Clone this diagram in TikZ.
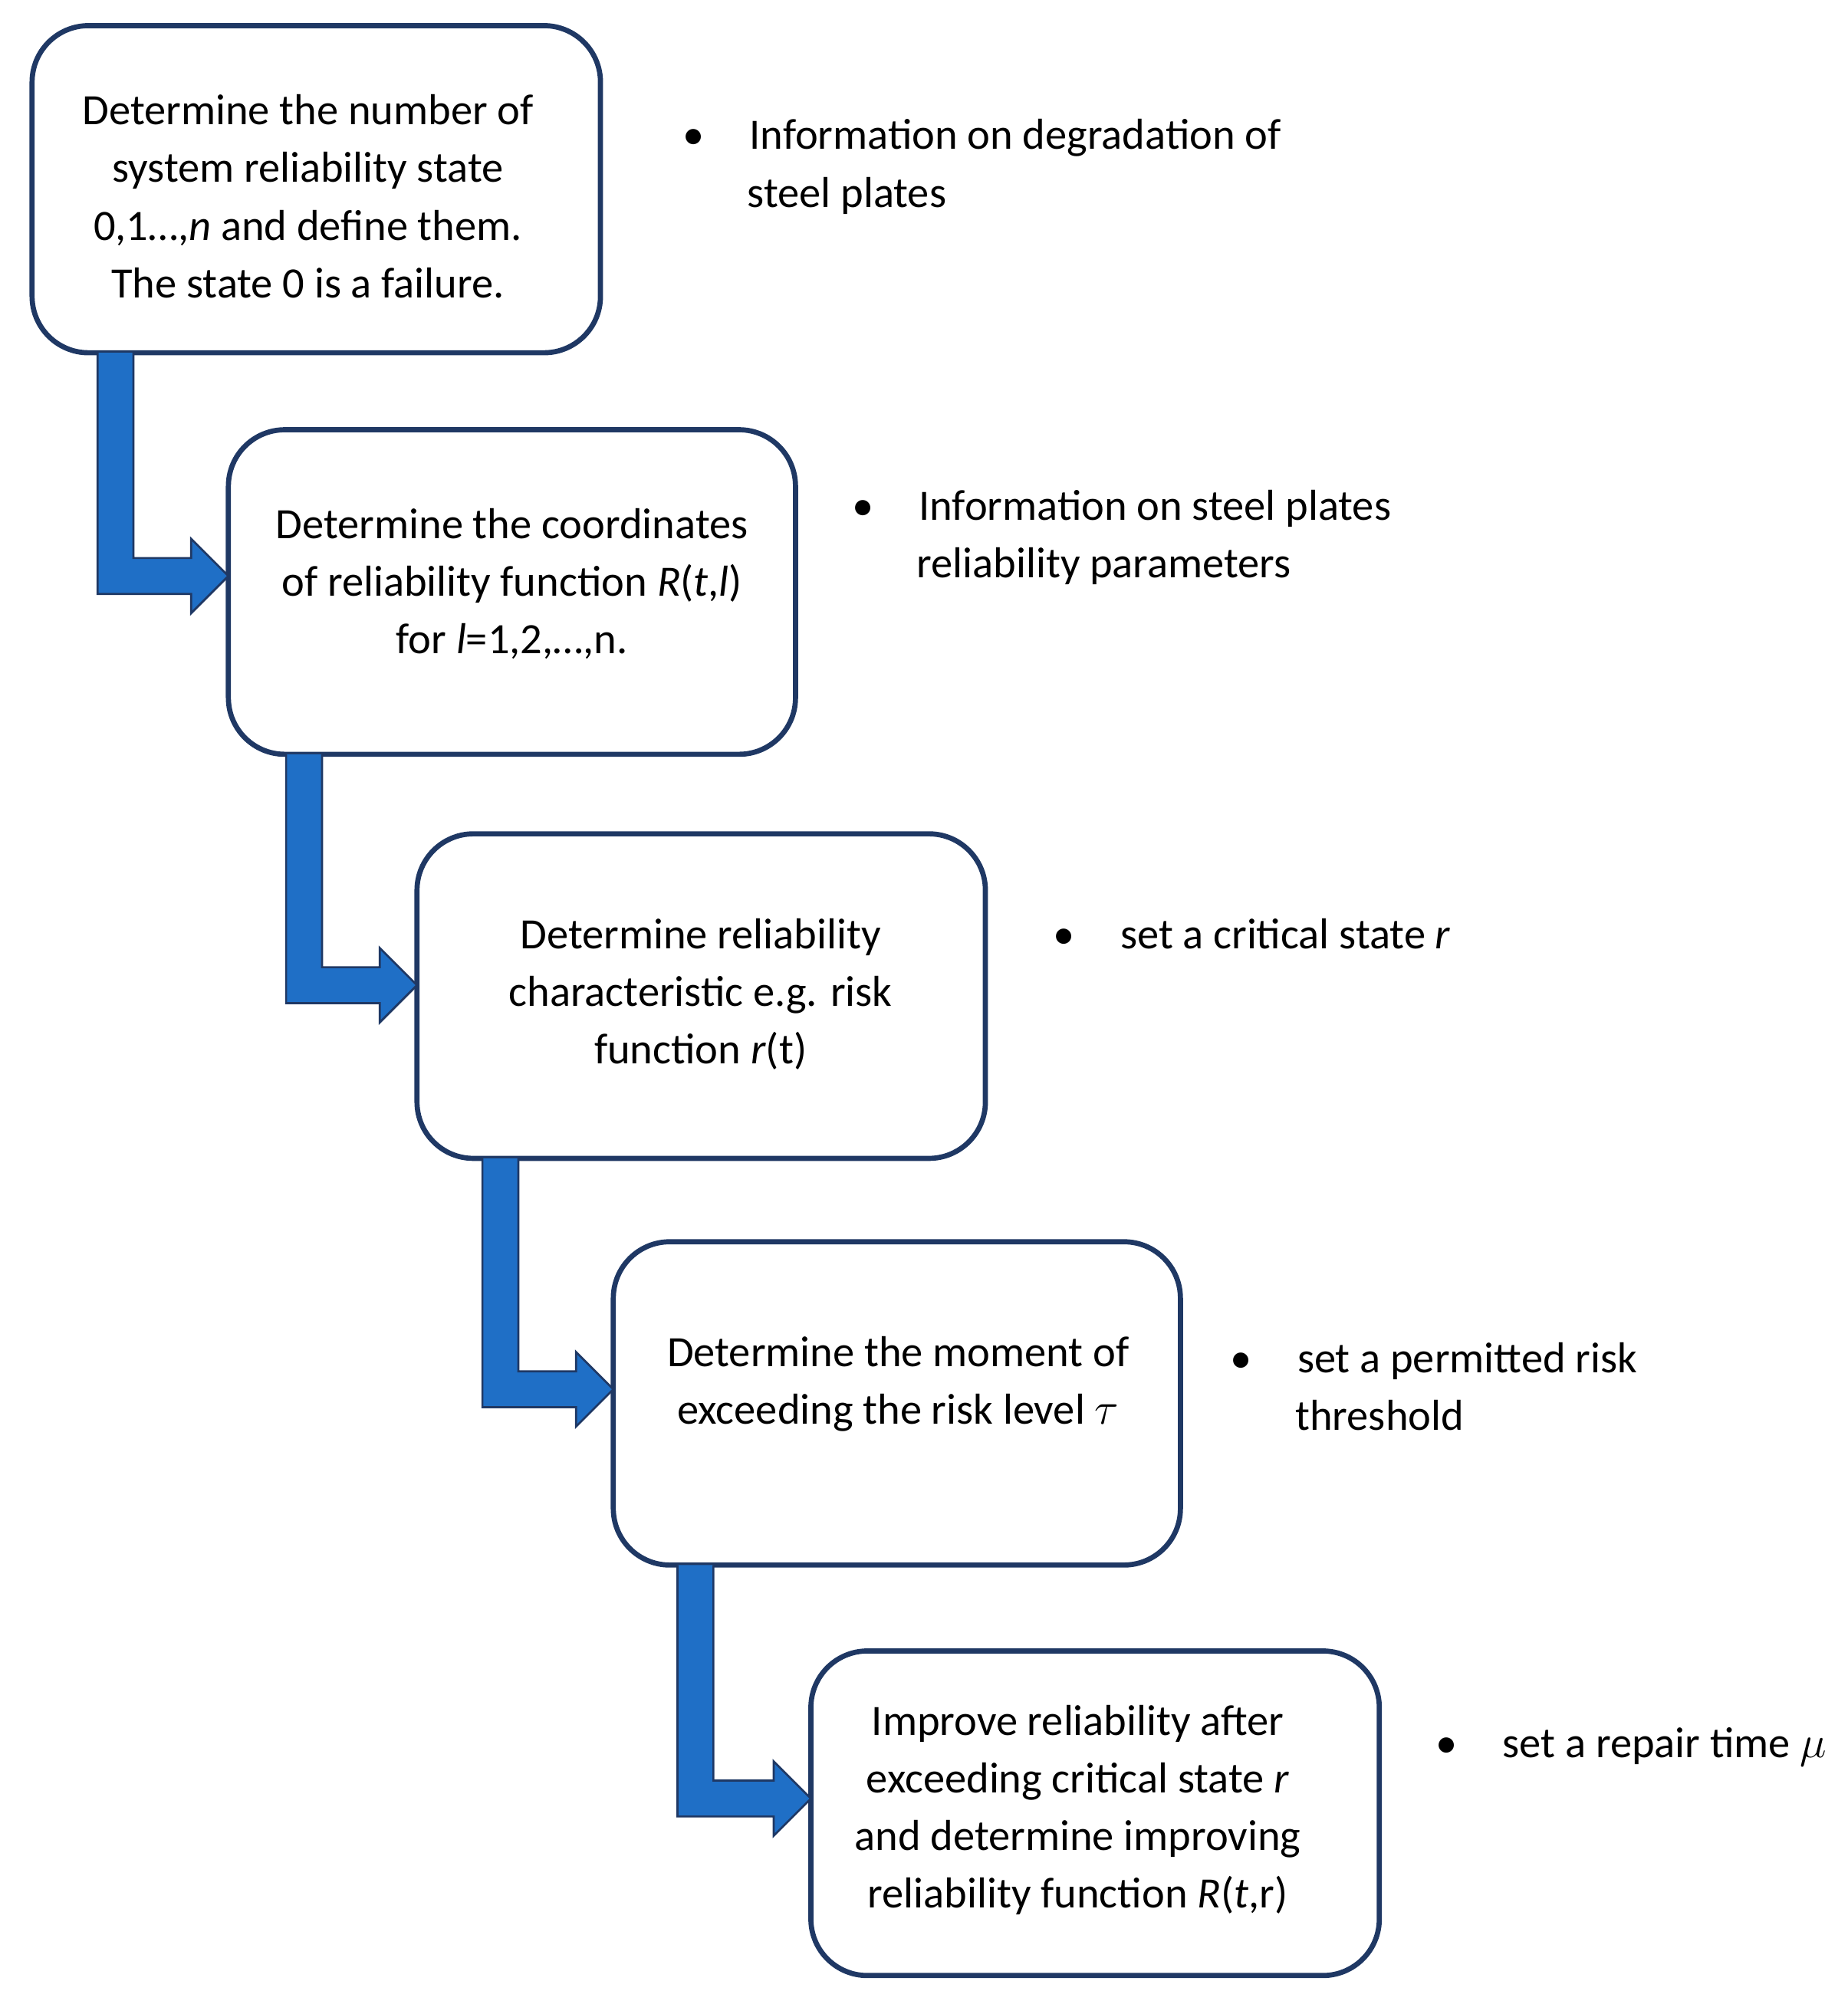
\documentclass[tikz,border=0pt]{standalone}
\usepackage{fontspec}
\setmainfont{Carlito}
\begin{document}
\begin{tikzpicture}[x=0.25mm,y=-0.25mm,
 box/.style={draw=boxc,line width=1mm,rounded corners=11mm,fill=white},
 txt/.style={font=\fontsize{24}{32}\selectfont,align=center,text=black},
 note/.style={font=\fontsize{24}{32}\selectfont,align=left,anchor=west},
 arr/.style={fill=arrc,draw=boxc,line width=0.4mm}]
\definecolor{boxc}{HTML}{1F3864}
\definecolor{arrc}{HTML}{1F6FC6}
\useasboundingbox (0,0) rectangle (1440,1570);
% boxes
\draw[box] (25,20) rectangle (468,275);
\draw[box] (178,335) rectangle (620,588);
\draw[box] (325,650) rectangle (768,903);
\draw[box] (478,968) rectangle (920,1220);
\draw[box] (632,1287) rectangle (1075,1540);
\node[txt] (t1) at (240,153) {Determine the number of\\system reliability state\\0,1\ldots,\textit{n} and define them.\\The state 0 is a failure.};
\node[txt] (t2) at (399,455) {Determine the coordinates\\of reliability function \textit{R}(\textit{t},\textit{l})\\for \textit{l}=1,2,\ldots,n.};
\node[txt] (t3) at (546,775) {Determine reliability\\characteristic e.g. risk\\function \textit{r}(t)};
\node[txt] (t4) at (700,1079) {Determine the moment of\\exceeding the risk level $\tau$};
\node[txt] (t5) at (840,1411) {Improve reliability after\\exceeding critical state \textit{r}\\and determine improving\\reliability function \textit{R}(\textit{t},r)};
% arrows
\foreach \cx/\ya/\yc/\xt in {90/275/449/178, 237/588/768/325, 390/903/1083/478, 542/1220/1402/632}{
 \draw[arr] (\cx-14,\ya) -- (\cx-14,\yc+14) -- (\xt-29,\yc+14) -- (\xt-29,\yc+29) -- (\xt,\yc) -- (\xt-29,\yc-29) -- (\xt-29,\yc-14) -- (\cx+14,\yc-14) -- (\cx+14,\ya);
}
% notes
\node[note] (n1) at (527,130) {•\hspace{1.05em}Information on degradation of\\\hspace{1.5em}steel plates};
\node[note] (n2) at (659,419) {•\hspace{1.05em}Information on steel plates\\\hspace{1.5em}reliability parameters};
\node[note] (n3) at (816,728) {•\hspace{1.05em}set a critical state \textit{r}};
\node[note] (n4) at (954,1081) {•\hspace{1.05em}set a permitted risk\\\hspace{1.5em}threshold};
\node[note] (n5) at (1114,1362) {•\hspace{1.05em}set a repair time $\mu$};
\end{tikzpicture}
\end{document}
